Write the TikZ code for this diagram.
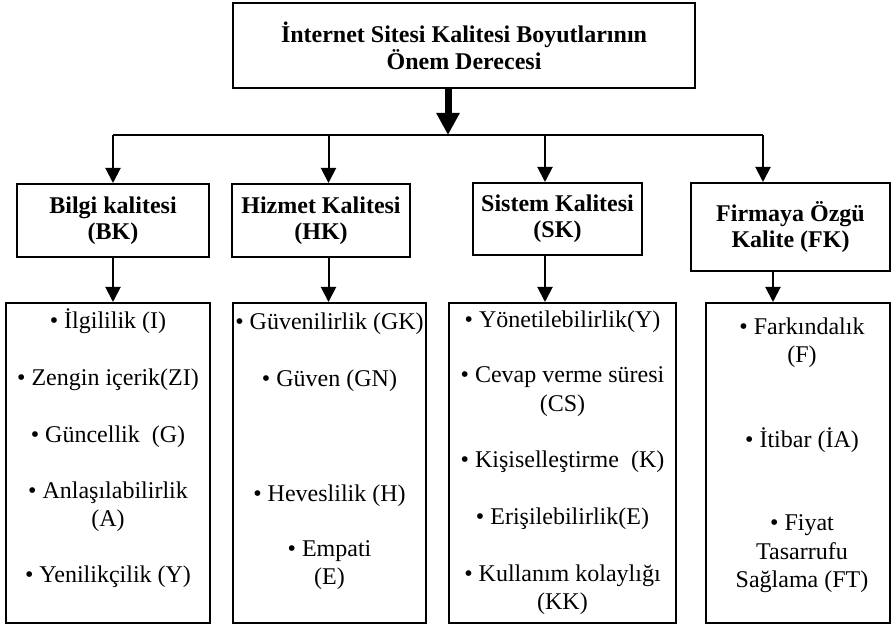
\documentclass[tikz,border=0pt]{standalone}
\usepackage{fontspec}
\setmainfont{Liberation Serif}
\usetikzlibrary{
    arrows.meta,
    positioning,
    calc
}
\tikzset{
    % --- Top box (overall heading) ---
    title box/.style = {
        rectangle, draw, line width=1pt,
        minimum width=231pt, minimum height=42.5pt,
        font=\fontsize{12pt}{13.5pt}\selectfont\bfseries,
        align=center, inner sep=0pt
    },
    % --- Dimension box (one per quality dimension) ---
    dim box/.style = {
        rectangle, draw, line width=1pt,
        minimum height=36.5pt,
        font=\fontsize{12pt}{13pt}\selectfont\bfseries,
        align=center, inner sep=0pt
    },
    % --- Frame round the list of sub-dimensions ---
    list box/.style = {
        rectangle, draw, line width=1pt,
        minimum height=160pt, inner sep=0pt
    },
    % --- Bullet list text (placed on its last baseline) ---
    items/.style = {
        font=\fontsize{12pt}{14.25pt}\selectfont,
        align=center, inner sep=0pt, anchor=base
    },
    % --- Plain connector line ---
    link/.style = {
        line width=1pt
    },
    % --- Connector with arrow head ---
    link arrow/.style = {
        -{Triangle[length=7.5pt,width=7.5pt]}, line width=1pt
    },
    % --- Heavy arrow out of the top box ---
    main arrow/.style = {
        -{Triangle[length=11pt,width=11pt]}, line width=3.5pt
    }
}

\begin{document}
\begin{tikzpicture}[x=0.5pt, y=-0.5pt]
\useasboundingbox (0,0) rectangle (891,625);

% ---------------------------------------------------------
% Top box
% ---------------------------------------------------------
\node[title box] (Title) at (464,45.5)
    {İnternet Sitesi Kalitesi Boyutlarının\\Önem Derecesi};

% ---------------------------------------------------------
% Dimension boxes
% ---------------------------------------------------------
\node[dim box, minimum width=96pt] (BK) at (113,220.5) {Bilgi kalitesi\\(BK)};
\node[dim box, minimum width=89pt] (HK) at (321,220.5) {Hizmet Kalitesi\\(HK)};
\node[dim box, minimum width=84.5pt, minimum height=36pt] (SK) at (557.5,219)
    {Sistem Kalitesi\\(SK)};
\node[dim box, minimum width=99.5pt, minimum height=44pt] (FK) at (790.5,227)
    {Firmaya Özgü\\Kalite (FK)};

% ---------------------------------------------------------
% List frames
% ---------------------------------------------------------
\node[list box, minimum width=102pt] (BKlist) at (108,463) {};
\node[list box, minimum width=96.5pt] (HKlist) at (329.5,463) {};
\node[list box, minimum width=113.5pt] (SKlist) at (562.5,463) {};
\node[list box, minimum width=92pt] (FKlist) at (798,463) {};

% ---------------------------------------------------------
% List items
% ---------------------------------------------------------
\node[items] (BKitems) at (108,583) {%
    • İlgililik (I)\\[14.25pt]
    • Zengin içerik(ZI)\\[14.25pt]
    • Güncellik~ (G)\\[13.75pt]
    • Anlaşılabilirlik\\(A)\\[13.75pt]
    • Yenilikçilik (Y)};
\node[items] (HKitems) at (329.5,585) {%
    • Güvenilirlik (GK)\\[14.25pt]
    • Güven (GN)\\[43.25pt]
    • Heveslilik (H)\\[13.25pt]
    • Empati\\(E)};
\node[items] (SKitems) at (562.5,610) {%
    • Yönetilebilirlik(Y)\\[13.25pt]
    • Cevap verme süresi\\(CS)\\[13.75pt]
    • Kişiselleştirme~ (K)\\[14.25pt]
    • Erişilebilirlik(E)\\[14.25pt]
    • Kullanım kolaylığı\\(KK)};
\node[items] (FKitems) at (802,588) {%
    • Farkındalık\\(F)\\[28.25pt]
    • İtibar (İA)\\[27.25pt]
    • Fiyat\\Tasarrufu\\Sağlama (FT)};

% ---------------------------------------------------------
% Heavy arrow and branch line
% ---------------------------------------------------------
\coordinate (split) at (448,135);
\coordinate (dropBK) at (113,135);
\coordinate (dropHK) at (328.5,135);
\coordinate (dropSK) at (545,135);
\coordinate (dropFK) at (763,135);
\draw[main arrow] (Title.south -| split) -- (split);
\draw[link] (dropBK) -- (dropFK);

% Arrows into the dimension boxes
\foreach \d in {BK, HK, SK, FK} {
    \draw[link arrow] (drop\d) -- (drop\d |- \d.north);
}

% ---------------------------------------------------------
% Arrows into the lists
% ---------------------------------------------------------
\coordinate (tapFK) at (773,0);
\foreach \d in {BK, HK, SK} {
    \draw[link arrow] (drop\d |- \d.south) -- (drop\d |- \d list.north);
}
\draw[link arrow] (tapFK |- FK.south) -- (tapFK |- FKlist.north);

\end{tikzpicture}
\end{document}
